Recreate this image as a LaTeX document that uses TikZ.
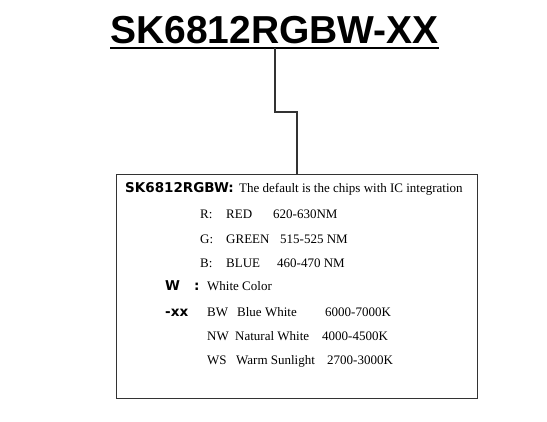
\documentclass[tikz,border=0pt]{standalone}
\usepackage{fontspec}
\setmainfont{Liberation Serif}
\setsansfont{Liberation Sans}
\newfontfamily\keyfamily{DejaVu Sans}
\usetikzlibrary{positioning,calc}

\begin{document}
\begin{tikzpicture}[x=1pt,y=-1pt]
			\tikzset{
				title/.style = {font={\sffamily\bfseries\fontsize{39}{39}\selectfont}, inner sep=0pt, anchor=base west},
				key/.style = {font={\keyfamily\bfseries\fontsize{13.5}{13.5}\selectfont}, inner sep=0pt, anchor=base west},
				spec/.style = {font={\fontsize{13}{13}\selectfont}, inner sep=0pt, anchor=base west},
				wire/.style = {draw=black!80, line width=1.1pt},
			}

			\useasboundingbox (0,0) rectangle (547,421);

			\node[title] (title) at (110,43) {SK6812RGBW-XX};
			\draw [line width=2pt] (110,48) -- (439,48);

			\node[draw=black!80, line width=1.2pt, minimum width=361pt, minimum height=224pt, inner sep=0pt, anchor=north west] (box) at (116,174) {};

			\coordinate (tap) at (275,48);
			\coordinate (knee) at (297,112);
			\draw [wire] (tap) |- (knee) -- (knee |- box.north);

			\node[key] (chip) at (125,192) {SK6812RGBW:};
			\node[spec] (chipdesc) at (239,192) {The default is the chips with IC integration};

			\foreach \y/\k/\n/\v/\xv in {218/R:/RED/620-630NM/273, 243/G:/GREEN/515-525 NM/280, 267/B:/BLUE/460-470 NM/277}
				{
					\node[spec] (\n-key) at (200,\y) {\k};
					\node[spec] (\n-name) at (226,\y) {\n};
					\node[spec] (\n-wave) at (\xv,\y) {\v};
				}

			\node[key] (white) at (165,290) {W};
			\node[key] (whitecolon) at (194,290) {:};
			\node[spec] (whitedesc) at (207,290) {White Color};

			\node[key] (xx) at (165,316) {-xx};
			\foreach \y/\k/\n/\xn/\v/\xv in {316/BW/Blue White/237/6000-7000K/325, 340/NW/Natural White/235/4000-4500K/322, 364/WS/Warm Sunlight/236/2700-3000K/327}
				{
					\node[spec] (\k-code) at (207,\y) {\k};
					\node[spec] (\k-name) at (\xn,\y) {\n};
					\node[spec] (\k-cct) at (\xv,\y) {\v};
				}

		\end{tikzpicture}
\end{document}
